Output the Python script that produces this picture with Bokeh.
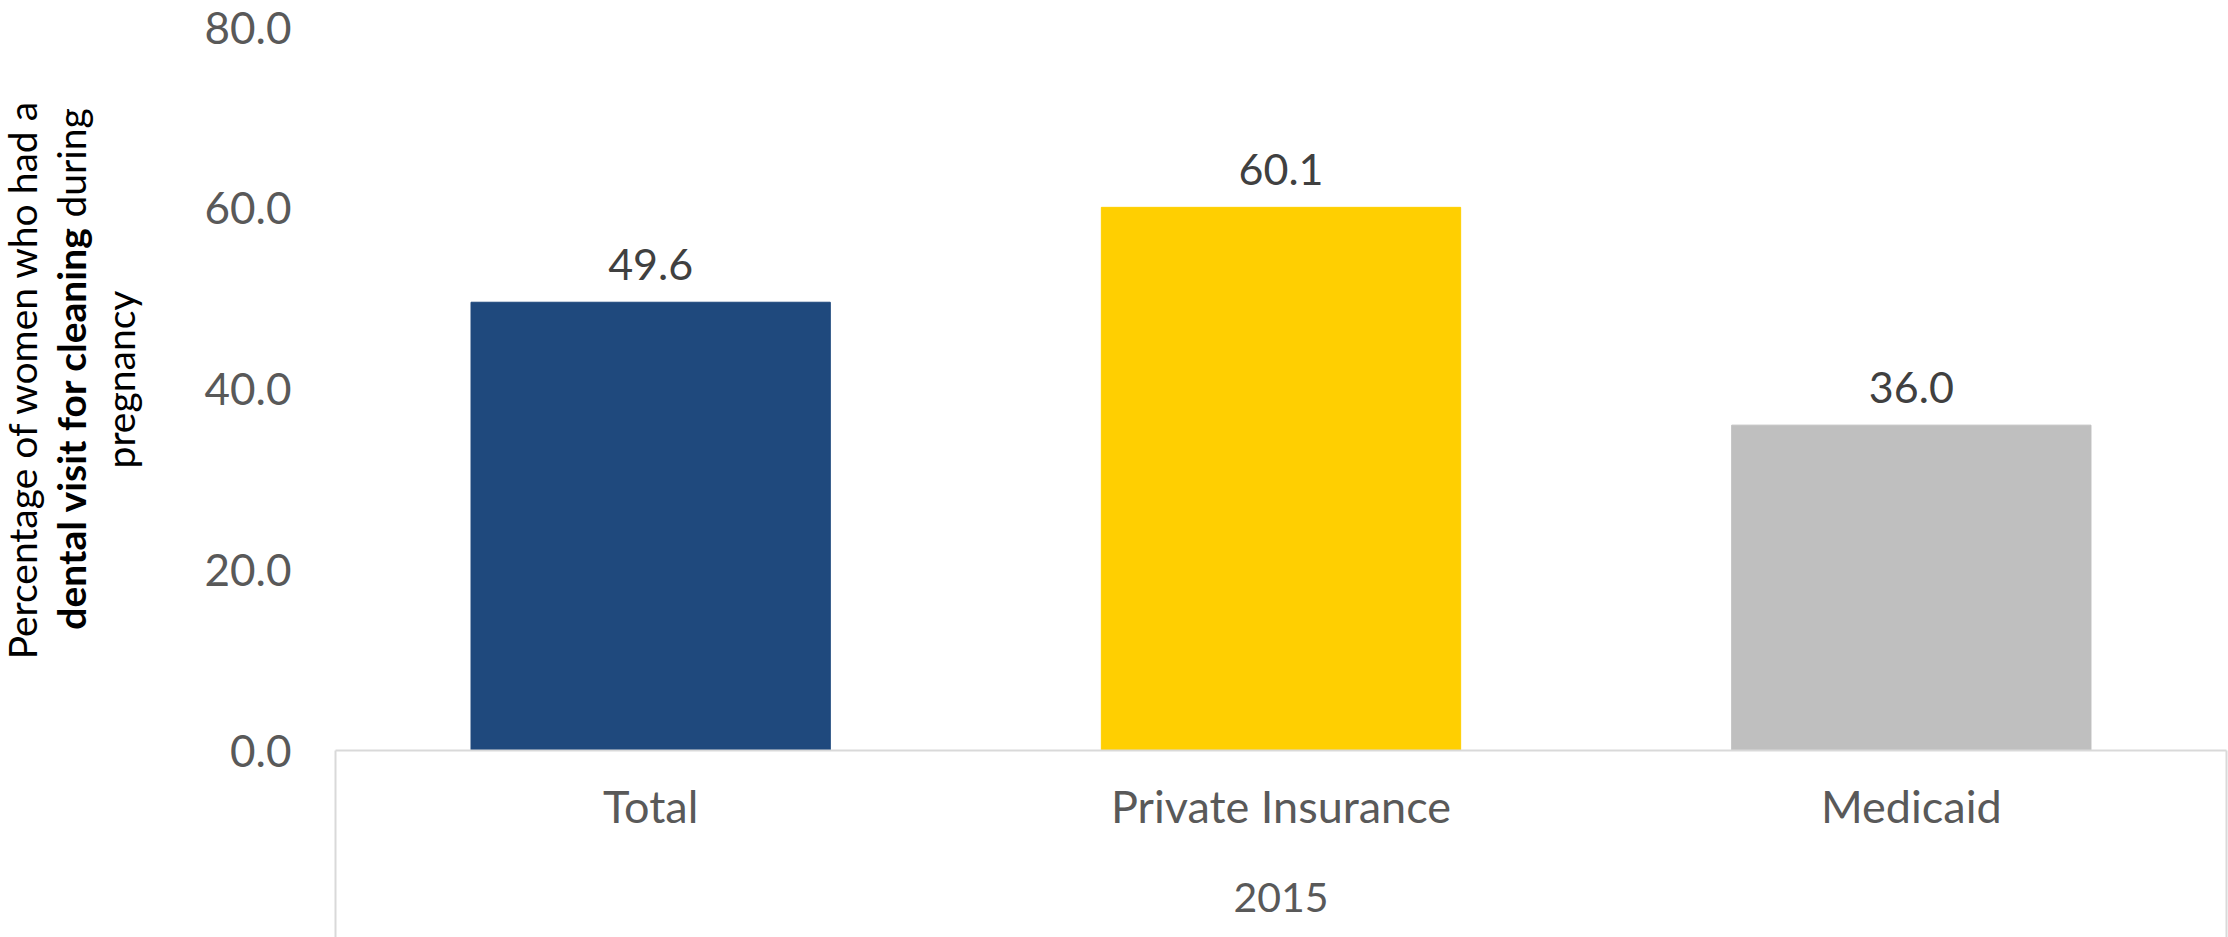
from math import pi
from bokeh.plotting import figure
from bokeh.layouts import row
from bokeh.models import (ColumnDataSource, Range1d, FixedTicker,
                          PrintfTickFormatter, Label)
from bokeh.core.properties import value
from bokeh.embed import file_html
from bokeh.resources import INLINE

# ---- data ----
categories = ["Total", "Private Insurance", "Medicaid"]
values = [49.6, 60.1, 36.0]
group_label = "2015"
y_ticks = [0, 20, 40, 60, 80]
title_line1 = "Percentage of women who had a"
title_line2_bold = "dental visit for cleaning"
title_line2_rest = "during"
title_line3 = "pregnancy"

# ---- styles ----
bar_colors = ["#1F497D", "#FFCF01", "#BFBFBF"]
FONT = "Lato"
H = 937

n = len(categories)
slot = [i + 0.5 for i in range(n)]   # category slot centres on a 0..n scale

src = ColumnDataSource(dict(
    x=slot,
    cat=categories,
    val=values,
    color=bar_colors,
    lab=[f"{v:.1f}" for v in values],
))

# ---- main chart ----
p = figure(x_range=Range1d(0, n), y_range=Range1d(0, 80),
           frame_width=1891, frame_height=723,
           min_border_left=185, min_border_right=2,
           min_border_top=27, min_border_bottom=187,
           output_backend="svg", toolbar_location=None)

p.vbar(x="x", top="val", width=0.57, color="color", source=src)

p.text(x="x", y="val", text="lab", source=src,
       text_font=value(FONT), text_font_size="43px", text_color="#404040",
       text_align="center", text_baseline="bottom", y_offset=-22)

p.outline_line_color = None
p.xgrid.visible = False
p.ygrid.visible = False

# y axis
yax = p.yaxis[0]
yax.ticker = FixedTicker(ticks=y_ticks)
yax.formatter = PrintfTickFormatter(format="%.1f")
yax.axis_line_color = None
yax.major_tick_line_color = None
yax.minor_tick_line_color = None
yax.major_label_text_font = FONT
yax.major_label_text_font_size = "44px"
yax.major_label_text_color = "#595959"
yax.major_label_standoff = 38

# category axis; the box edges are long minor ticks at the range ends
TICK_OUT = 200
xax = p.xaxis[0]
xax.ticker = FixedTicker(ticks=slot, minor_ticks=[0, n])
xax.major_label_overrides = {s: c for s, c in zip(slot, categories)}
xax.axis_line_color = "#D9D9D9"
xax.axis_line_width = 2
xax.major_tick_line_color = None
xax.minor_tick_line_color = "#D9D9D9"
xax.minor_tick_line_width = 2
xax.minor_tick_in = 0
xax.minor_tick_out = TICK_OUT
xax.major_label_text_font = FONT
xax.major_label_text_font_size = "45px"
xax.major_label_text_color = "#595959"
xax.major_label_standoff = 28 - TICK_OUT
xax.axis_label = group_label
xax.axis_label_text_font = FONT
xax.axis_label_text_font_size = "41px"
xax.axis_label_text_font_style = "normal"
xax.axis_label_text_color = "#595959"
xax.axis_label_standoff = 47

# ---- y axis title panel (three lines, second partly bold) ----
t = figure(x_range=Range1d(0, 150), y_range=Range1d(0, H),
           frame_width=150, frame_height=H,
           min_border=0, min_border_left=0, min_border_right=0,
           min_border_top=0, min_border_bottom=0,
           x_axis_location=None, y_axis_location=None,
           output_backend="svg", toolbar_location=None)
t.outline_line_color = None
t.xgrid.visible = False
t.ygrid.visible = False

tkw = dict(angle=pi / 2, text_font=FONT, text_font_size="39px",
           text_color="#000000", text_baseline="middle")
t.add_layout(Label(x=21, y=585, text=title_line1, text_align="center", **tkw))
t.add_layout(Label(x=70, y=738, text=title_line2_bold, text_align="right",
                   text_font_style="bold", **tkw))
t.add_layout(Label(x=70, y=747, text=title_line2_rest, text_align="left", **tkw))
t.add_layout(Label(x=119, y=585, text=title_line3, text_align="center", **tkw))

layout = row(t, p, spacing=0)
open("out.html", "w").write(file_html(layout, INLINE))
